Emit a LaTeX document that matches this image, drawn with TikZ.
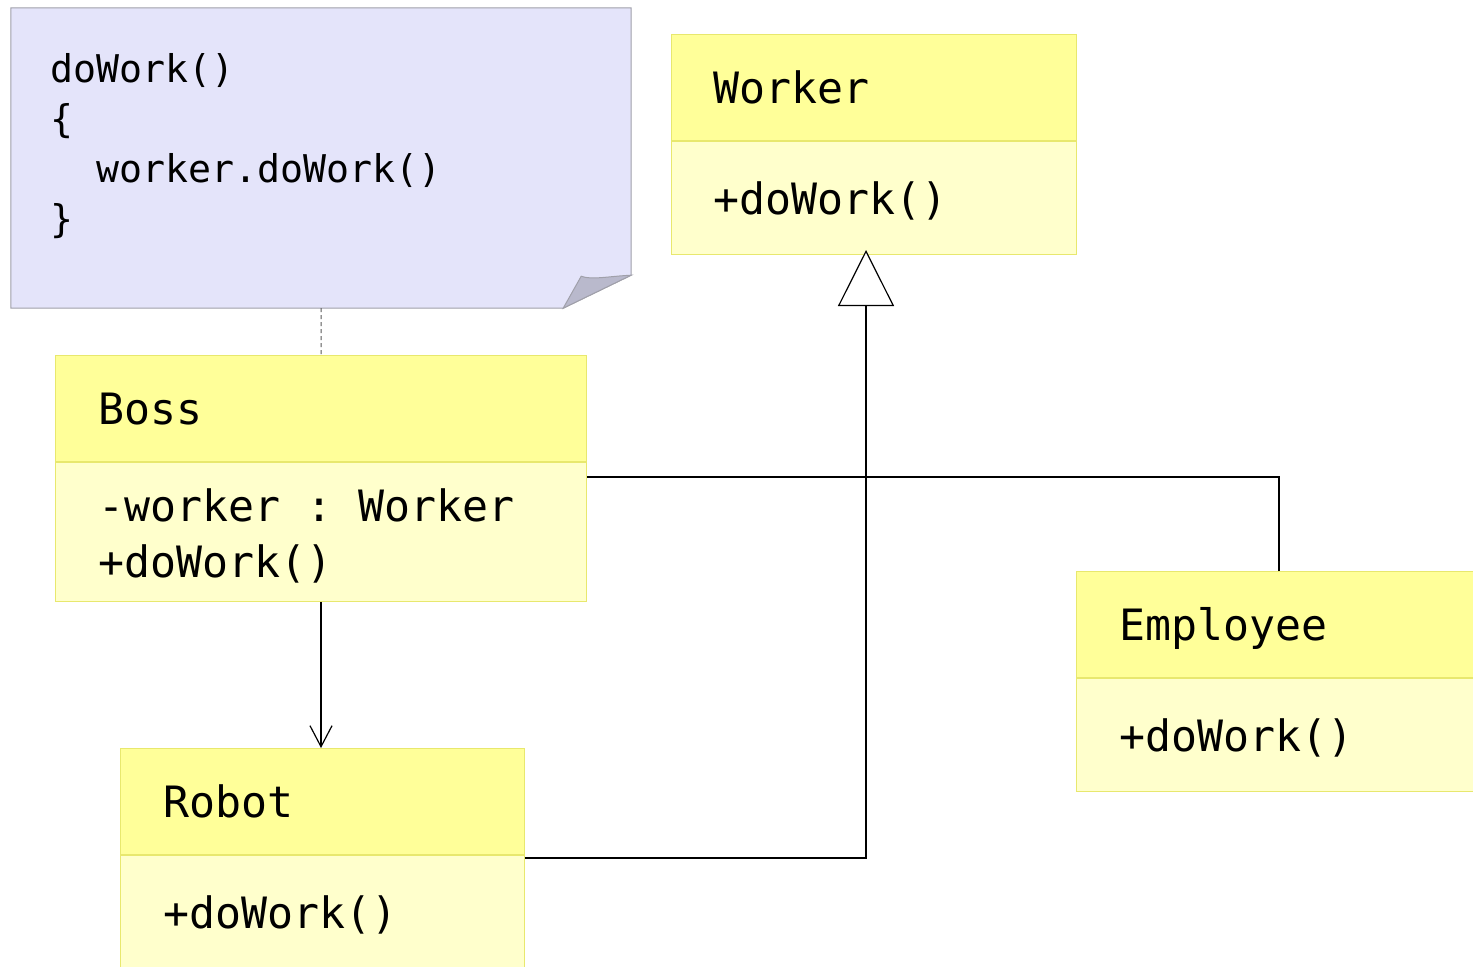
\documentclass[tikz,border=0pt]{standalone}
\usepackage{fontspec}
\setmonofont{DejaVu Sans Mono}
\usetikzlibrary{positioning,arrows.meta}

\definecolor{clshead}{RGB}{255,255,153}
\definecolor{clsbody}{RGB}{255,255,204}
\definecolor{clsline}{RGB}{232,232,110}
\definecolor{notefill}{RGB}{228,228,250}
\definecolor{notefold}{RGB}{185,185,204}
\definecolor{noteline}{RGB}{160,160,170}

\tikzset{
  headbox/.style={draw=clsline, fill=clshead, line width=1bp, minimum height=106bp, inner sep=0pt, anchor=north west},
  opsbox/.style={draw=clsline, fill=clsbody, line width=1bp, inner sep=0pt},
  clstext/.style={font=\ttfamily\fontsize{43.2bp}{52bp}\selectfont, inner sep=0pt, anchor=base west},
  codetext/.style={font=\ttfamily\fontsize{38.2bp}{50bp}\selectfont, inner sep=0pt, anchor=base west},
  conn/.style={draw=black, line width=1.2bp},
  notelink/.style={draw=black!65, line width=1bp, dash pattern=on 4bp off 3bp}
}

\begin{document}
\begin{tikzpicture}[x=1bp, y=-1bp]
	\path[use as bounding box, fill=white] (0,0) rectangle (1473,966);
	
	% note
	\node[minimum width=620bp, minimum height=300bp, inner sep=0pt] (note) at (321,158) {};
	\filldraw[fill=notefill, draw=noteline, line width=1bp] (note.north west) -- (note.north east)
	  -- ([yshift=33bp]note.south east) -- ([xshift=-68bp]note.south east) -- (note.south west) -- cycle;
	\filldraw[fill=notefold, draw=noteline, line width=1bp] ([xshift=-68bp]note.south east)
	  -- ([xshift=-50bp,yshift=32bp]note.south east)
	  .. controls ([xshift=-40bp,yshift=28bp]note.south east) and ([xshift=-22bp,yshift=32bp]note.south east) .. ([yshift=33bp]note.south east)
	  -- cycle;
	\node[codetext] (code1) at (50,82) {doWork()};
	\node[codetext] (code2) at (50,132) {\{};
	\node[codetext] (code3) at (96,182) {worker.doWork()};
	\node[codetext] (code4) at (50,232) {\}};
	
	% classes
	\node[headbox, minimum width=405bp] (worker) at (671,34) {};
	\node[opsbox, minimum width=405bp, minimum height=113bp, below=0pt of worker] (workerops) {};
	\node[clstext] (workername) at ([xshift=42bp,yshift=-16bp]worker.west) {Worker};
	\node[clstext] (workerm) at ([xshift=42bp,yshift=-16bp]workerops.west) {+doWork()};
	
	\node[headbox, minimum width=531bp] (boss) at (55,355) {};
	\node[opsbox, minimum width=531bp, minimum height=139bp, below=0pt of boss] (bossops) {};
	\node[clstext] (bossname) at ([xshift=43bp,yshift=-16bp]boss.west) {Boss};
	\node[clstext] (bossattr) at ([xshift=43bp,yshift=10.5bp]bossops.west) {-worker : Worker};
	\node[clstext] (bossm) at ([xshift=43bp,yshift=-45.5bp]bossops.west) {+doWork()};
	
	\node[headbox, minimum width=404bp] (robot) at (120,748) {};
	\node[opsbox, minimum width=404bp, minimum height=113bp, below=0pt of robot] (robotops) {};
	\node[clstext] (robotname) at ([xshift=43bp,yshift=-16bp]robot.west) {Robot};
	\node[clstext] (robotm) at ([xshift=43bp,yshift=-16bp]robotops.west) {+doWork()};
	
	\node[headbox, minimum width=405bp] (employee) at (1076,571) {};
	\node[opsbox, minimum width=405bp, minimum height=113bp, below=0pt of employee] (employeeops) {};
	\node[clstext] (employeename) at ([xshift=43bp,yshift=-16bp]employee.west) {Employee};
	\node[clstext] (employeem) at ([xshift=43bp,yshift=-16bp]employeeops.west) {+doWork()};
	
	% connectors
	\draw[notelink] (note.south) -- (boss.north);
	\draw[conn, -{Straight Barb[length=21bp, width=22bp]}] (bossops.south) -- (bossops.south |- robot.north);
	
	\coordinate (wtip) at (866,250);
	\coordinate (join) at (866,477);
	\draw[conn] (bossops.east |- join) -- (join);
	\draw[conn] (employee.north) |- (join);
	\draw[conn] ([yshift=-3bp]robotops.north east) -| (join);
	\draw[conn, -{Triangle[length=56bp, width=56bp, fill=white]}] (join) -- (wtip);
	
\end{tikzpicture}
\end{document}
